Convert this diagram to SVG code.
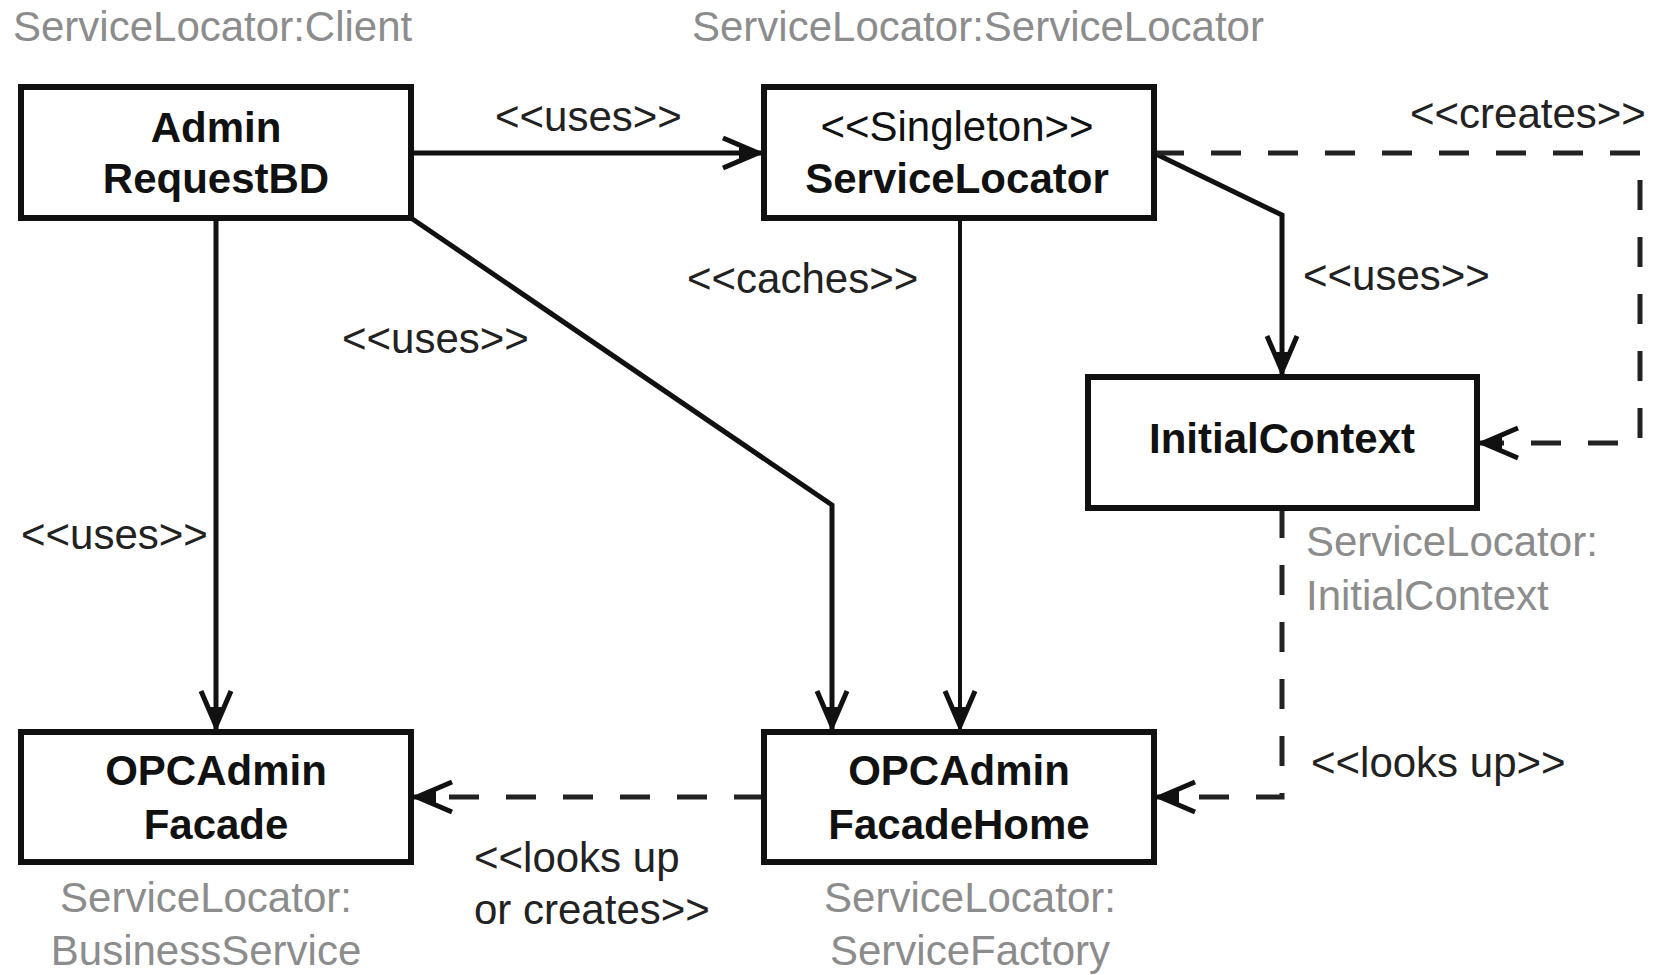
<svg xmlns="http://www.w3.org/2000/svg" width="1653" height="975" viewBox="0 0 1653 975">
<style>
  .box { fill: #fff; stroke: #111; stroke-width: 6; }
  .name { font-family: "Liberation Sans", Arial, sans-serif; font-size: 42px; font-weight: bold; fill: #111; text-anchor: middle; }
  .stereo { font-family: "Liberation Sans", Arial, sans-serif; font-size: 42px; fill: #111; text-anchor: middle; }
  .grey { font-family: "Liberation Sans", Arial, sans-serif; font-size: 42px; fill: #8c8c8c; }
  .lbl { font-family: "Liberation Sans", Arial, sans-serif; font-size: 42px; fill: #222; }
  .solid { fill: none; stroke: #111; stroke-width: 5; marker-end: url(#arrow); }
  .thin { fill: none; stroke: #111; stroke-width: 4; marker-end: url(#arrow); }
  .dash { fill: none; stroke: #222; stroke-width: 5; stroke-dasharray: 30 27; marker-end: url(#arrow); }
</style>
<defs>
  <marker id="arrow" markerUnits="userSpaceOnUse" markerWidth="60" markerHeight="50" viewBox="-50 -25 60 50" refX="0" refY="0" orient="auto" overflow="visible">
    <path d="M-38,-15 L-3,0 L-38,15" fill="none" stroke="#111" stroke-width="5" stroke-dasharray="none"/>
    <path d="M-22,-6 L0,0 L-22,6 Z" fill="#111" stroke="none"/>
  </marker>
</defs>
<rect width="1653" height="975" fill="#fff"/>

<text class="grey" x="13" y="41">ServiceLocator:Client</text>
<text class="grey" x="692" y="41">ServiceLocator:ServiceLocator</text>

<g id="connectors">
  <path class="solid" d="M411,153 H761"/>
  <path class="solid" d="M216,218 V729"/>
  <path class="solid" d="M411,218 L832,505 V729"/>
  <path class="thin" d="M960,218 V729"/>
  <path class="solid" d="M1156,154 L1282,215 V374"/>
  <path class="dash" d="M1154,153 H1640 V443 H1480"/>
  <path class="dash" d="M1282,508 V797 H1157"/>
  <path class="dash" d="M764,797 H414"/>
  <text class="lbl" x="495" y="131">&lt;&lt;uses&gt;&gt;</text>
  <text class="lbl" x="342" y="353">&lt;&lt;uses&gt;&gt;</text>
  <text class="lbl" x="21" y="549">&lt;&lt;uses&gt;&gt;</text>
  <text class="lbl" x="687" y="293">&lt;&lt;caches&gt;&gt;</text>
  <text class="lbl" x="1303" y="290">&lt;&lt;uses&gt;&gt;</text>
  <text class="lbl" x="1410" y="128">&lt;&lt;creates&gt;&gt;</text>
  <text class="lbl" x="1311" y="777">&lt;&lt;looks up&gt;&gt;</text>
  <text class="lbl" x="474" y="872">&lt;&lt;looks up</text>
  <text class="lbl" x="474" y="924">or creates&gt;&gt;</text>
</g>

<g id="node-adminrequestbd">
  <rect class="box" x="21" y="87" width="390" height="131"/>
  <text class="name" x="216" y="142">Admin</text>
  <text class="name" x="216" y="193">RequestBD</text>
</g>

<g id="node-servicelocator">
  <rect class="box" x="764" y="87" width="390" height="131"/>
  <text class="stereo" x="957" y="141">&lt;&lt;Singleton&gt;&gt;</text>
  <text class="name" x="957" y="193">ServiceLocator</text>
</g>

<g id="node-initialcontext">
  <rect class="box" x="1088" y="377" width="389" height="131"/>
  <text class="name" x="1282" y="453">InitialContext</text>
  <text class="grey" x="1306" y="556">ServiceLocator:</text>
  <text class="grey" x="1306" y="610">InitialContext</text>
</g>

<g id="node-opcadminfacade">
  <rect class="box" x="21" y="732" width="390" height="130"/>
  <text class="name" x="216" y="785">OPCAdmin</text>
  <text class="name" x="216" y="839">Facade</text>
  <text class="grey" x="206" y="912" text-anchor="middle">ServiceLocator:</text>
  <text class="grey" x="206" y="965" text-anchor="middle">BusinessService</text>
</g>

<g id="node-opcadminfacadehome">
  <rect class="box" x="764" y="732" width="390" height="130"/>
  <text class="name" x="959" y="785">OPCAdmin</text>
  <text class="name" x="959" y="839">FacadeHome</text>
  <text class="grey" x="970" y="912" text-anchor="middle">ServiceLocator:</text>
  <text class="grey" x="970" y="965" text-anchor="middle">ServiceFactory</text>
</g>
</svg>
